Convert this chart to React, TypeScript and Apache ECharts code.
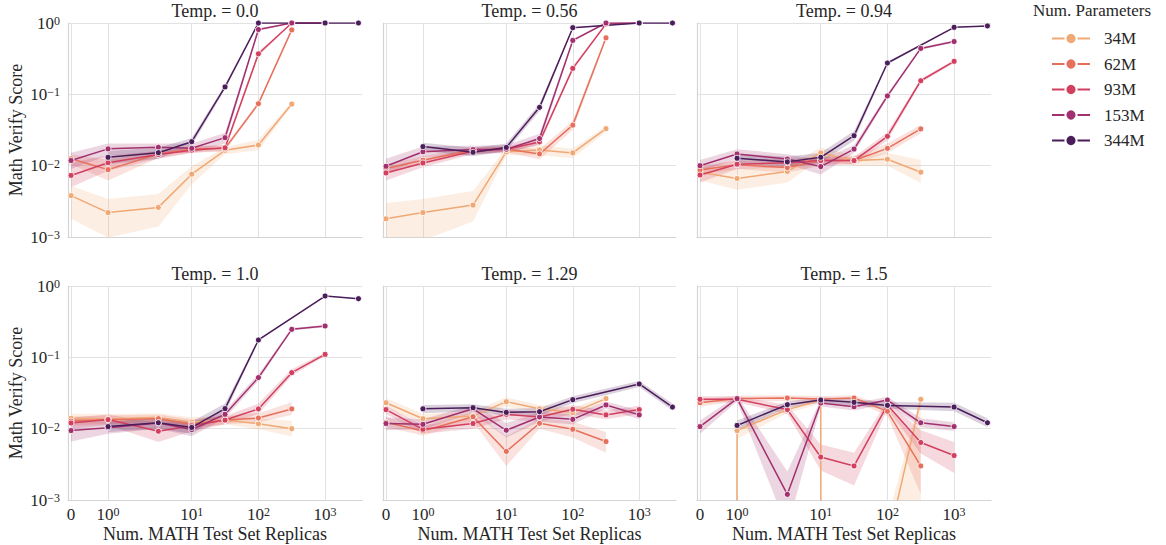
import React, { useEffect, useRef } from "react";
import * as echarts from "echarts";

// ---------------- data ----------------
const REPLICAS = [0, 1, 3.16, 10, 31.6, 100, 316, 1000, 3162];
const X_TICKS = [0, 1, 10, 100, 1000];
const Y_TICKS = [0.001, 0.01, 0.1, 1];
const MODELS = ["34M", "62M", "93M", "153M", "344M"];
const COLORS = ["#f0a875", "#e7705c", "#d23f5f", "#a2306e", "#4b1d5b"];
const TEMPS = ["0.0", "0.56", "0.94", "1.0", "1.29", "1.5"];

// order inside each: 34M, 62M, 93M, 153M, 344M ; index = REPLICAS index
const mean_T000 = [
  [0.0038, 0.0022, 0.0026, 0.0076, 0.0164, 0.0195, 0.073, null, null],
  [0.0125, 0.0088, 0.0146, 0.0171, 0.0175, 0.074, 0.8, null, null],
  [0.0073, 0.011, 0.0143, 0.0165, 0.0178, 0.37, 1.0, 1.0, null],
  [0.0118, 0.0172, 0.0181, 0.0175, 0.0247, 0.81, 1.0, 1.0, null],
  [null, 0.0131, 0.0152, 0.0217, 0.127, 1.0, null, 1.0, 1.0],
];
const low_T000 = [
  [0.0018, 0.00098, 0.0014, 0.0055, 0.0145, 0.0165, 0.068, null, null],
  [0.0105, 0.0062, 0.0128, 0.0153, 0.016, 0.07, 0.78, null, null],
  [0.005, 0.0085, 0.0125, 0.015, 0.016, 0.34, 0.99, 0.99, null],
  [0.009, 0.014, 0.015, 0.015, 0.0205, 0.78, 0.99, 0.99, null],
  [null, 0.0105, 0.0125, 0.019, 0.118, 1.0, null, 1.0, 1.0],
];
const high_T000 = [
  [0.0052, 0.0034, 0.004, 0.0098, 0.0182, 0.023, 0.078, null, null],
  [0.0145, 0.012, 0.0162, 0.0188, 0.0192, 0.078, 0.82, null, null],
  [0.011, 0.014, 0.016, 0.0182, 0.0196, 0.4, 1.0, 1.0, null],
  [0.0152, 0.0205, 0.0205, 0.0205, 0.029, 0.84, 1.0, 1.0, null],
  [null, 0.016, 0.0178, 0.0245, 0.136, 1.0, null, 1.0, 1.0],
];

const mean_T056 = [
  [0.0018, 0.0022, 0.0028, 0.0156, 0.0166, 0.0151, 0.033, null, null],
  [0.0091, 0.0119, 0.0166, 0.0171, 0.0146, 0.037, 0.62, null, null],
  [0.0079, 0.0109, 0.016, 0.017, 0.0215, 0.231, 0.97, 1.0, null],
  [0.0098, 0.0157, 0.0168, 0.017, 0.024, 0.57, 1.0, 1.0, null],
  [null, 0.0185, 0.0154, 0.018, 0.0657, 0.86, null, 1.0, 1.0],
];
const low_T056 = [
  [0.0009, 0.0009, 0.00165, 0.014, 0.014, 0.0128, 0.03, null, null],
  [0.0078, 0.0105, 0.015, 0.0155, 0.0122, 0.032, 0.58, null, null],
  [0.0062, 0.0095, 0.0145, 0.0155, 0.0195, 0.215, 0.95, 0.99, null],
  [0.0075, 0.013, 0.0145, 0.015, 0.02, 0.54, 0.99, 0.99, null],
  [null, 0.016, 0.0135, 0.016, 0.058, 0.84, null, 1.0, 1.0],
];
const high_T056 = [
  [0.003, 0.0034, 0.0044, 0.0178, 0.0195, 0.0172, 0.036, null, null],
  [0.0105, 0.0135, 0.0182, 0.0188, 0.017, 0.043, 0.66, null, null],
  [0.0095, 0.0125, 0.0175, 0.0185, 0.0235, 0.25, 0.99, 1.0, null],
  [0.0125, 0.0185, 0.019, 0.0195, 0.028, 0.6, 1.0, 1.0, null],
  [null, 0.021, 0.0178, 0.0205, 0.074, 0.88, null, 1.0, 1.0],
];

const mean_T094 = [
  [0.0081, 0.0066, 0.0083, 0.0151, 0.0118, 0.0123, 0.0081, null, null],
  [0.0087, 0.0103, 0.0094, 0.0118, 0.0118, 0.0175, 0.0327, null, null],
  [0.0074, 0.0105, 0.011, 0.0118, 0.0118, 0.0258, 0.155, 0.29, null],
  [0.01, 0.0146, 0.0124, 0.0097, 0.0171, 0.095, 0.44, 0.55, null],
  [null, 0.0127, 0.0113, 0.0131, 0.0263, 0.275, null, 0.87, 0.91],
];
const low_T094 = [
  [0.0062, 0.0046, 0.0058, 0.0125, 0.01, 0.01, 0.0057, null, null],
  [0.0075, 0.009, 0.008, 0.01, 0.0105, 0.015, 0.0285, null, null],
  [0.0058, 0.009, 0.0095, 0.0105, 0.0105, 0.0225, 0.145, 0.275, null],
  [0.0082, 0.0125, 0.0105, 0.0075, 0.015, 0.088, 0.42, 0.53, null],
  [null, 0.011, 0.0095, 0.011, 0.0225, 0.265, null, 0.86, 0.9],
];
const high_T094 = [
  [0.01, 0.009, 0.01, 0.018, 0.014, 0.015, 0.012, null, null],
  [0.01, 0.0118, 0.0108, 0.0135, 0.0135, 0.0205, 0.0375, null, null],
  [0.0092, 0.0122, 0.0125, 0.0132, 0.0132, 0.0295, 0.165, 0.305, null],
  [0.012, 0.017, 0.0145, 0.012, 0.0195, 0.102, 0.46, 0.57, null],
  [null, 0.0148, 0.0133, 0.0152, 0.0305, 0.285, null, 0.88, 0.92],
];

const mean_T100 = [
  [0.014, 0.0137, 0.0144, 0.0124, 0.0132, 0.0117, 0.01, null, null],
  [0.0128, 0.0133, 0.0138, 0.0115, 0.0132, 0.0141, 0.0189, null, null],
  [0.012, 0.0134, 0.0092, 0.011, 0.0132, 0.0189, 0.061, 0.11, null],
  [0.0094, 0.0103, 0.012, 0.0097, 0.0159, 0.052, 0.247, 0.275, null],
  [null, 0.0107, 0.0121, 0.0104, 0.0191, 0.175, null, 0.724, 0.664],
];
const low_T100 = [
  [0.012, 0.0118, 0.0125, 0.0105, 0.0115, 0.0098, 0.0078, null, null],
  [0.011, 0.0115, 0.012, 0.0098, 0.0115, 0.0122, 0.0155, null, null],
  [0.01, 0.0112, 0.0065, 0.0092, 0.0115, 0.016, 0.055, 0.104, null],
  [0.0066, 0.0085, 0.01, 0.0078, 0.014, 0.047, 0.237, 0.265, null],
  [null, 0.009, 0.01, 0.0085, 0.0165, 0.17, null, 0.715, 0.655],
];
const high_T100 = [
  [0.0162, 0.016, 0.0165, 0.0145, 0.0152, 0.014, 0.0128, null, null],
  [0.0148, 0.0153, 0.0158, 0.0135, 0.015, 0.0165, 0.0235, null, null],
  [0.0142, 0.0158, 0.012, 0.013, 0.015, 0.0225, 0.068, 0.117, null],
  [0.0145, 0.0125, 0.0142, 0.0118, 0.018, 0.058, 0.257, 0.285, null],
  [null, 0.0125, 0.0142, 0.0125, 0.0225, 0.18, null, 0.733, 0.673],
];

const mean_T129 = [
  [0.0231, 0.0138, 0.015, 0.0239, 0.019, 0.0168, 0.0264, null, null],
  [0.0123, 0.0093, 0.0147, 0.0048, 0.0119, 0.0098, 0.0066, null, null],
  [0.0185, 0.0098, 0.0118, 0.0159, 0.0146, 0.0187, 0.0156, 0.0185, null],
  [0.0118, 0.0115, 0.019, 0.0095, 0.0146, 0.0135, 0.0215, 0.0156, null],
  [null, 0.019, 0.0197, 0.0169, 0.0173, 0.0255, null, 0.0423, 0.0201],
];
const low_T129 = [
  [0.0195, 0.0118, 0.013, 0.0205, 0.0165, 0.0145, 0.024, null, null],
  [0.0105, 0.008, 0.0125, 0.003, 0.01, 0.0075, 0.0046, null, null],
  [0.016, 0.0085, 0.01, 0.0135, 0.0125, 0.016, 0.0135, 0.016, null],
  [0.0095, 0.0098, 0.0165, 0.0075, 0.0125, 0.0115, 0.019, 0.0135, null],
  [null, 0.0165, 0.0175, 0.015, 0.0152, 0.0228, null, 0.0385, 0.018],
];
const high_T129 = [
  [0.027, 0.016, 0.0175, 0.0275, 0.0215, 0.0195, 0.029, null, null],
  [0.0145, 0.0108, 0.017, 0.0078, 0.014, 0.0125, 0.009, null, null],
  [0.021, 0.0112, 0.0138, 0.0185, 0.017, 0.0215, 0.018, 0.021, null],
  [0.0145, 0.0135, 0.0215, 0.012, 0.017, 0.0158, 0.024, 0.018, null],
  [null, 0.0215, 0.022, 0.019, 0.0195, 0.0285, null, 0.0465, 0.0225],
];

const mean_T150 = [
  [0, 0.0094, 0.0185, 0.025, 0, 0.00024, 0.0258, null, null],
  [0.0231, 0.0264, 0.0269, 0.026, 0.0269, 0.0175, 0.003, null, null],
  [0.0258, 0.0258, 0.0185, 0.004, 0.003, 0.0215, 0.0064, 0.0042, null],
  [0.0107, 0.0264, 0.0012, 0.0229, 0.0203, 0.0252, 0.0121, 0.0107, null],
  [null, 0.0111, 0.0217, 0.0252, 0.0234, 0.0212, null, 0.0201, 0.0121],
];
const low_T150 = [
  [0, 0.0072, 0.0165, 0.0225, 0, 0, 0, null, null],
  [0.0205, 0.024, 0.0245, 0.0235, 0.0245, 0.015, 0.0012, null, null],
  [0.0235, 0.0235, 0.016, 0.0026, 0.0016, 0.0185, 0.0045, 0.0024, null],
  [0.0085, 0.024, 0.0004, 0.0205, 0.018, 0.0225, 0.0105, 0.0093, null],
  [null, 0.0095, 0.0195, 0.023, 0.0212, 0.019, null, 0.0175, 0.0105],
];
const high_T150 = [
  [0, 0.0105, 0.0205, 0.0275, 0, 0.00054, 0.0285, null, null],
  [0.026, 0.029, 0.0295, 0.0285, 0.0295, 0.0205, 0.006, null, null],
  [0.0285, 0.0285, 0.0215, 0.006, 0.0046, 0.0245, 0.0095, 0.0065, null],
  [0.013, 0.029, 0.0025, 0.0255, 0.0225, 0.028, 0.014, 0.0123, null],
  [null, 0.013, 0.024, 0.0275, 0.0258, 0.0236, null, 0.023, 0.014],
];

const MEANS = [mean_T000, mean_T056, mean_T094, mean_T100, mean_T129, mean_T150];
const LOWS = [low_T000, low_T056, low_T094, low_T100, low_T129, low_T150];
const HIGHS = [high_T000, high_T056, high_T094, high_T100, high_T129, high_T150];

// ---------------- styling / layout ----------------
const FONT = '"Liberation Serif", "DejaVu Serif", serif';
const TEXT = "#262626";
const GRID_COLOR = "#e2e2e2";
const SPINE_COLOR = "#d4d4d4";

const PANEL_BOXES = [
  { left: 68, top: 23, width: 294, height: 214 },
  { left: 383, top: 23, width: 293, height: 214 },
  { left: 697, top: 23, width: 294, height: 214 },
  { left: 68, top: 286, width: 294, height: 214 },
  { left: 383, top: 286, width: 293, height: 214 },
  { left: 697, top: 286, width: 294, height: 214 },
];

// matplotlib-like symlog transform (linthresh = 2, linscale = 1, base 10)
const symlog = (x: number) => (x <= 2 ? (x * 10) / 9 : 2 * (10 / 9 + Math.log10(x / 2)));
// matplotlib "clip" behaviour for non-positive values on a log axis
const logClip = (v: number) => (v <= 0 ? 1e-300 : v);
const X_TICK_POS = X_TICKS.map(symlog);
const X_MIN = -0.09;
const X_MAX = 8.726;

function rgba(hex: string, a: number) {
  const n = parseInt(hex.slice(1), 16);
  return `rgba(${(n >> 16) & 255},${(n >> 8) & 255},${n & 255},${a})`;
}

const RICH = {
  b: { fontFamily: FONT, fontSize: 17, fontWeight: "normal", color: TEXT, lineHeight: 16 },
  s: { fontFamily: FONT, fontSize: 12, fontWeight: "normal", color: TEXT, lineHeight: 7, verticalAlign: "top" },
};

function xLabel(v: number) {
  const i = X_TICK_POS.findIndex((p) => Math.abs(p - v) < 1e-6);
  if (i < 0) return "";
  const t = X_TICKS[i];
  if (t === 0) return "{b|0}";
  return "{b|10}{s|" + Math.round(Math.log10(t)) + "}";
}
function yLabel(v: number) {
  const e = Math.round(Math.log10(v));
  return "{b|10}{s|" + (e < 0 ? "\u2212" + -e : String(e)) + "}";
}

function text(t: string, x: number, y: number, size: number, rotation = 0) {
  return {
    type: "text",
    x,
    y,
    rotation,
    silent: true,
    style: {
      text: t,
      fill: TEXT,
      stroke: "none",
      lineWidth: 0,
      font: `normal ${size}px ${FONT}`,
      align: "center",
      verticalAlign: "middle",
    },
  };
}

function buildOption() {
  const grid: any[] = [];
  const xAxis: any[] = [];
  const yAxis: any[] = [];
  const series: any[] = [];
  const graphic: any[] = [];

  PANEL_BOXES.forEach((box, p) => {
    grid.push({ ...box, containLabel: false });
    xAxis.push({
      type: "value",
      gridIndex: p,
      min: X_MIN,
      max: X_MAX,
      axisLine: { show: true, onZero: false, lineStyle: { color: SPINE_COLOR, width: 1.2 } },
      axisTick: { show: false, customValues: X_TICK_POS },
      axisLabel: {
        show: p >= 3,
        customValues: X_TICK_POS,
        formatter: xLabel,
        rich: RICH,
        margin: 6,
        hideOverlap: false,
      },
      splitLine: { show: true, lineStyle: { color: GRID_COLOR, width: 1 } },
    });
    yAxis.push({
      type: "log",
      logBase: 10,
      gridIndex: p,
      min: Y_TICKS[0],
      max: Y_TICKS[Y_TICKS.length - 1],
      axisLine: { show: true, onZero: false, lineStyle: { color: SPINE_COLOR, width: 1.2 } },
      axisTick: { show: false },
      axisLabel: { show: p % 3 === 0, formatter: yLabel, rich: RICH, margin: 8 },
      splitLine: { show: true, lineStyle: { color: GRID_COLOR, width: 1 } },
    });

    MODELS.forEach((name, m) => {
      const pts: number[][] = [];
      REPLICAS.forEach((x, i) => {
        const v = MEANS[p][m][i];
        if (v == null) return;
        pts.push([
          symlog(x),
          logClip(v),
          logClip(LOWS[p][m][i] as number),
          logClip(HIGHS[p][m][i] as number),
        ]);
      });
      const color = COLORS[m];
      series.push({
        type: "custom",
        name: "band-" + name,
        xAxisIndex: p,
        yAxisIndex: p,
        clip: true,
        silent: true,
        data: pts.map((d) => [d[0], d[2], d[3]]),
        encode: { x: 0, y: [1, 2] },
        renderItem: (params: any, api: any) => {
          if (params.dataIndex !== 0) return null;
          const upper = pts.map((d) => api.coord([d[0], d[3]]));
          const lower = pts.map((d) => api.coord([d[0], d[2]])).reverse();
          return {
            type: "polygon",
            shape: { points: upper.concat(lower) },
            style: { fill: rgba(color, 0.2), stroke: "none" },
          };
        },
      });
      series.push({
        type: "line",
        name,
        xAxisIndex: p,
        yAxisIndex: p,
        clip: true,
        data: pts.map((d) => [d[0], d[1]]),
        symbol: "circle",
        symbolSize: 6,
        showSymbol: true,
        lineStyle: { color, width: 1.5 },
        itemStyle: { color, borderColor: "#ffffff", borderWidth: 0.8 },
        emphasis: { disabled: true },
      });
    });

    const cx = box.left + box.width / 2;
    graphic.push(text("Temp. = " + TEMPS[p], cx, p < 3 ? 11 : 274, 18));
    if (p >= 3) graphic.push(text("Num. MATH Test Set Replicas", cx, 534, 18));
    if (p % 3 === 0) graphic.push(text("Math Verify Score", 16, box.top + box.height / 2, 18, Math.PI / 2));
  });

  graphic.push(text("Num. Parameters", 1092, 10, 17));

  return {
    animation: false,
    backgroundColor: "#ffffff",
    grid,
    xAxis,
    yAxis,
    series,
    graphic,
    legend: {
      data: MODELS,
      orient: "vertical",
      left: 1046,
      top: 25,
      itemWidth: 38,
      itemHeight: 14,
      itemGap: 8.5,
      selectedMode: false,
      textStyle: { fontFamily: FONT, fontSize: 17, fontWeight: "normal", color: TEXT, padding: [0, 0, 0, 9] },
    },
  };
}

export default function App() {
  const ref = useRef<HTMLDivElement>(null);
  useEffect(() => {
    document.body.style.margin = "0";
    if (!ref.current) return;
    const chart = echarts.init(ref.current, null, { renderer: "svg" });
    chart.setOption(buildOption() as any);
    return () => chart.dispose();
  }, []);
  return <div ref={ref} style={{ width: 1166, height: 545 }} />;
}
